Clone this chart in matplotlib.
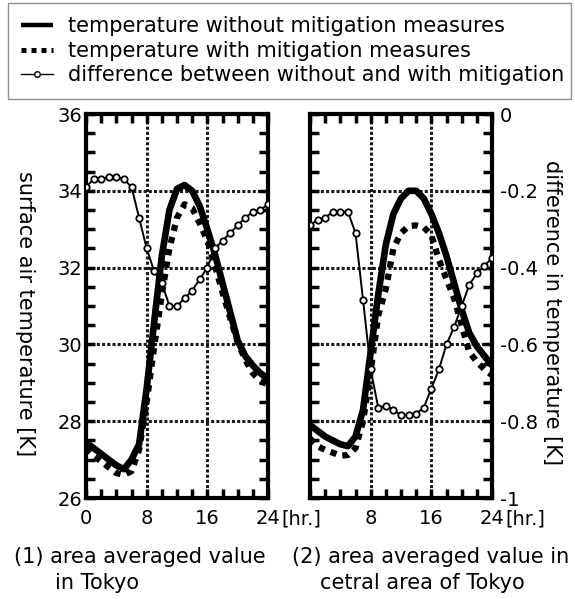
import matplotlib

matplotlib.use("Agg")
import matplotlib.pyplot as plt
from matplotlib.lines import Line2D
from matplotlib.ticker import MultipleLocator

W, H = 575, 599

HOURS = list(range(25))

# (1) area averaged value in Tokyo
TOKYO_WITHOUT = [27.45, 27.3, 27.15, 27.0, 26.85, 26.75, 27.0, 27.4, 28.85, 30.6, 32.3, 33.5,
                 34.05, 34.15, 34.0, 33.6, 33.0, 32.35, 31.6, 30.85, 30.1, 29.7, 29.45, 29.25, 29.1]
TOKYO_WITH = [27.3, 27.1, 26.95, 26.8, 26.65, 26.6, 26.7, 27.25, 28.5, 29.95, 31.3, 32.5,
              33.3, 33.65, 33.55, 33.15, 32.7, 32.05, 31.35, 30.7, 30.05, 29.6, 29.25, 29.05, 28.95]
TOKYO_DIFF = [-0.19, -0.17, -0.17, -0.165, -0.165, -0.17, -0.19, -0.27, -0.35, -0.41, -0.44, -0.5,
              -0.5, -0.48, -0.46, -0.43, -0.4, -0.35, -0.33, -0.31, -0.29, -0.27, -0.255, -0.25, -0.235]

# (2) area averaged value in central area of Tokyo
CENTRAL_WITHOUT = [27.9, 27.75, 27.6, 27.5, 27.4, 27.35, 27.6, 28.3, 29.8, 31.3, 32.6, 33.4,
                   33.8, 34.0, 34.0, 33.8, 33.4, 32.9, 32.3, 31.6, 30.9, 30.3, 29.95, 29.7, 29.45]
CENTRAL_WITH = [27.55, 27.35, 27.25, 27.18, 27.1, 27.12, 27.3, 28.0, 29.3, 30.75, 31.45, 32.5,
                32.9, 33.08, 33.1, 33.05, 32.85, 32.2, 31.7, 31.2, 30.5, 29.8, 29.55, 29.35, 29.2]
CENTRAL_DIFF = [-0.29, -0.275, -0.27, -0.255, -0.255, -0.255, -0.31, -0.485, -0.665, -0.765, -0.76, -0.77,
                -0.785, -0.785, -0.78, -0.765, -0.715, -0.665, -0.6, -0.555, -0.5, -0.445, -0.415, -0.395, -0.375]

DIFF_TICKS = [0, -0.2, -0.4, -0.6, -0.8, -1]
DIFF_LABELS = ["0", "-0.2", "-0.4", "-0.6", "-0.8", "-1"]

LEGEND_LABELS = [
    "temperature without mitigation measures",
    "temperature with mitigation measures",
    "difference between without and with mitigation",
]


def style_axes(ax):
    ax.set_xlim(0, 24)
    ax.set_ylim(26, 36)
    ax.xaxis.set_major_locator(MultipleLocator(8))
    ax.xaxis.set_minor_locator(MultipleLocator(2))
    ax.yaxis.set_major_locator(MultipleLocator(2))
    ax.yaxis.set_minor_locator(MultipleLocator(0.5))
    ax.tick_params(which="both", direction="in", top=True, right=True, left=True, bottom=True,
                   length=6.5, width=2.5, labelsize=14)
    ax.tick_params(axis="x", pad=8)
    ax.tick_params(axis="y", pad=2.5)
    ax.grid(True, which="major", color="0.1", linestyle=(0, (1, 0.7)), linewidth=2.2)
    for spine in ax.spines.values():
        spine.set_linewidth(3)


def draw_panel(fig, left, without, with_, diff, right_labels):
    ax = fig.add_axes([left / W, (H - 498) / H, 182 / W, 384 / H])
    ax.plot(HOURS, without, color="black", linewidth=4.8, solid_capstyle="butt")
    ax.plot(HOURS, with_, color="black", linewidth=4.5, dashes=(1, 1))

    ax2 = ax.twinx()
    ax2.set_ylim(-1, 0)
    ax2.plot(HOURS, diff, color="black", linewidth=1.4, marker="o", markersize=4.6,
             markerfacecolor="white", markeredgecolor="black", markeredgewidth=1.3)
    for spine in ax2.spines.values():
        spine.set_visible(False)
    ax2.set_yticks(DIFF_TICKS)
    ax2.set_yticklabels(DIFF_LABELS)
    ax2.tick_params(axis="y", length=0, pad=5.5, labelsize=14, labelright=right_labels)

    style_axes(ax)
    ax.annotate("[hr.]", xy=(1, 0), xycoords="axes fraction", xytext=(9.5, -8),
                textcoords="offset points", ha="left", va="top", fontsize=14)
    return ax


def main():
    fig = plt.figure(figsize=(W / 100, H / 100), dpi=100)

    ax_left = draw_panel(fig, 86, TOKYO_WITHOUT, TOKYO_WITH, TOKYO_DIFF, False)
    ax_right = draw_panel(fig, 310, CENTRAL_WITHOUT, CENTRAL_WITH, CENTRAL_DIFF, True)
    ax_right.tick_params(axis="y", labelleft=False)
    ax_right.set_xticks([0, 8, 16, 24])
    ax_right.set_xticklabels(["", "8", "16", "24"])

    fig.text(25 / W, 1 - 314 / H, "surface air temperature [K]", rotation=270,
             ha="center", va="center", fontsize=15)
    fig.text(552 / W, 1 - 312 / H, "difference in temperature [K]", rotation=270,
             ha="center", va="center", fontsize=15)

    fig.text(14 / W, 1 - 557 / H, "(1) area averaged value", ha="left", va="center", fontsize=15)
    fig.text(55 / W, 1 - 583 / H, "in Tokyo", ha="left", va="center", fontsize=15)
    fig.text(292 / W, 1 - 557 / H, "(2) area averaged value in", ha="left", va="center", fontsize=15)
    fig.text(320 / W, 1 - 583 / H, "cetral area of Tokyo", ha="left", va="center", fontsize=15)

    handles = [
        Line2D([], [], color="black", linewidth=3.2, solid_capstyle="butt"),
        Line2D([], [], color="black", linewidth=3.6, dashes=(1, 1)),
        Line2D([], [], color="black", linewidth=1.0, marker="o", markersize=4,
               markerfacecolor="white", markeredgewidth=1.0),
    ]
    leg = fig.legend(handles, LEGEND_LABELS, loc="upper left", mode="expand",
                     bbox_to_anchor=(8 / W, 1 - 3 / H, 563 / W, 0), borderaxespad=0,
                     fontsize=15, handlelength=1.5, handletextpad=0.75, labelspacing=0.22,
                     borderpad=0.64, fancybox=False, markerscale=1.0)
    frame = leg.get_frame()
    frame.set_edgecolor("0.45")
    frame.set_linewidth(1.0)

    fig.savefig("out.png", dpi=100)
    plt.close(fig)


if __name__ == "__main__":
    main()
